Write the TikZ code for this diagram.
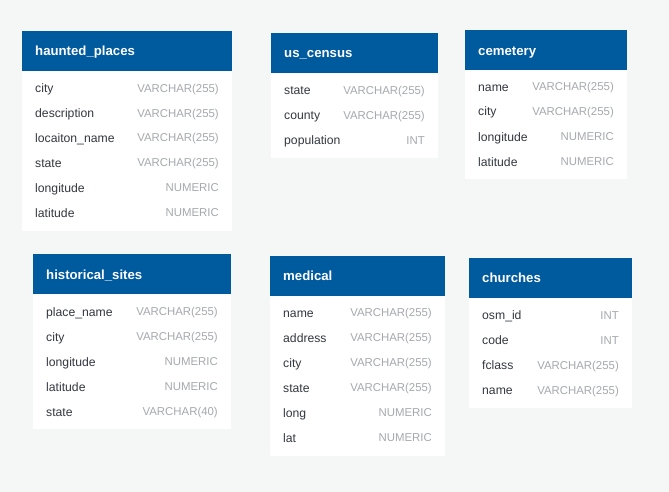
\documentclass[tikz,border=0pt]{standalone}
\usepackage{fontspec}
\setmainfont{Liberation Sans}
\definecolor{bgc}{HTML}{F5F6F6}
\definecolor{hdr}{HTML}{005A9E}
\definecolor{fld}{HTML}{333840}
\definecolor{typ}{HTML}{A6A9AD}
\tikzset{
  hdrbox/.style={fill=hdr,draw=none},
  bodybox/.style={fill=white,draw=none},
  title/.style={anchor=base west,inner sep=0pt,text=white,font=\fontsize{13.2}{15}\selectfont\bfseries},
  fieldname/.style={anchor=base west,inner sep=0pt,text=fld,font=\fontsize{12.2}{14}\selectfont},
  fieldtype/.style={anchor=base east,inner sep=0pt,text=typ,font=\fontsize{11.4}{14}\selectfont},
}
% #1 id, #2 x1, #3 top, #4 x2, #5 header bottom, #6 bottom, #7 title, #8 title center y, #9 rows field/type/y
\newcommand{\erdtab}[9]{%
  \fill[bodybox] (#2,#5) rectangle (#4,#6);
  \fill[hdrbox] (#2,#3) rectangle (#4,#5);
  \node[title] (#1-t) at ({#2+13},{#8+4.6}) {#7};
  \foreach \f/\t/\yy [count=\i] in {#9}{
    \node[fieldname] (#1-f\i) at ({#2+13},{\yy+4.4}) {\f};
    \node[fieldtype] (#1-y\i) at ({#4-13},{\yy+4.2}) {\t};
  }%
}
\begin{document}
\begin{tikzpicture}[x=1pt,y=-1pt]
\fill[bgc] (0,0) rectangle (669,492);
\useasboundingbox (0,0) rectangle (669,492);
\erdtab{hp}{22}{31}{232}{71}{231}{haunted\_places}{51}{city/VARCHAR(255)/88.3, description/VARCHAR(255)/112.9, locaiton\_name/VARCHAR(255)/137.7, state/VARCHAR(255)/162.7, longitude/NUMERIC/187.7, latitude/NUMERIC/212.7}
\erdtab{uc}{271}{33}{438}{73}{158}{us\_census}{53.3}{state/VARCHAR(255)/90, county/VARCHAR(255)/115, population/INT/140}
\erdtab{cm}{465}{30}{627}{70}{179}{cemetery}{50.7}{name/VARCHAR(255)/86.7, city/VARCHAR(255)/111.3, longitude/NUMERIC/136.7, latitude/NUMERIC/161.7}
\erdtab{hs}{33}{254}{231}{294}{429}{historical\_sites}{275}{place\_name/VARCHAR(255)/311.7, city/VARCHAR(255)/336.7, longitude/NUMERIC/361.7, latitude/NUMERIC/386.7, state/VARCHAR(40)/411.7}
\erdtab{md}{270}{256}{445}{296}{456}{medical}{276}{name/VARCHAR(255)/312.7, address/VARCHAR(255)/337.7, city/VARCHAR(255)/362.7, state/VARCHAR(255)/387.7, long/NUMERIC/412.7, lat/NUMERIC/437.7}
\erdtab{ch}{469}{258}{632}{298}{408}{churches}{278.3}{osm\_id/INT/315, code/INT/340, fclass/VARCHAR(255)/365, name/VARCHAR(255)/390}
\end{tikzpicture}
\end{document}
